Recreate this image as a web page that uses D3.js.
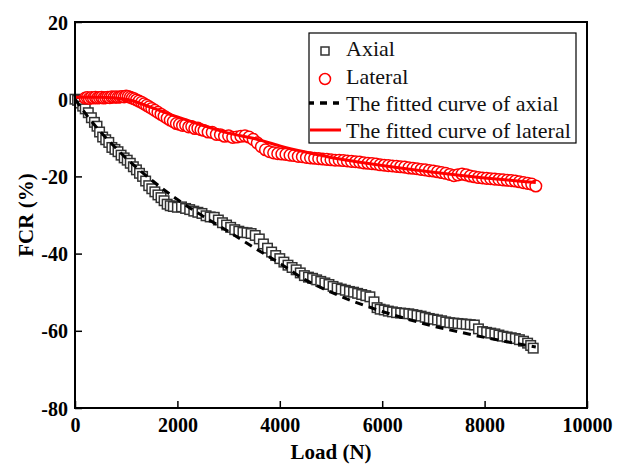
<!DOCTYPE html>
<html>
<head>
<meta charset="utf-8">
<script src="https://cdn.jsdelivr.net/npm/d3@7"></script>
<style>
  body { margin: 0; background: #fff; }
  svg { display: block; }
  text { font-family: "Liberation Serif", "Times New Roman", serif; }
  .axis text { font-size: 20px; font-weight: bold; fill: #000; }
  .axis line { stroke: #000; stroke-width: 1.5px; }
</style>
</head>
<body>
<svg id="chart" width="629" height="464"></svg>
<script>
// axial test points (load in N, FCR in %)
const axialLoad = [0, 50, 100, 150, 200, 260, 320, 380, 430, 480, 540, 600, 660, 720, 780, 840, 900, 960, 1020, 1080,
  1140, 1200, 1260, 1320, 1380, 1440, 1500, 1560, 1620, 1680, 1740, 1800, 1860, 1920, 2000, 2080, 2160, 2240, 2320, 2400,
  2480, 2560, 2640, 2720, 2800, 2880, 2960, 3040, 3120, 3200, 3280, 3360, 3440, 3520, 3600, 3680, 3760, 3840, 3920, 4000,
  4080, 4160, 4240, 4320, 4400, 4480, 4560, 4640, 4720, 4800, 4880, 4960, 5040, 5120, 5200, 5280, 5360, 5440, 5520, 5600,
  5680, 5760, 5840, 5900, 5960, 6040, 6120, 6200, 6280, 6360, 6440, 6520, 6600, 6680, 6760, 6840, 6920, 7000, 7080, 7160,
  7240, 7320, 7400, 7480, 7560, 7640, 7720, 7800, 7880, 7960, 8040, 8120, 8200, 8280, 8360, 8440, 8520, 8600, 8680, 8760,
  8840, 8900, 8950];
const axialFcr = [0, -0.3, -1, -1.8, -2.5, -3.5, -4.8, -6, -7, -8.5, -9.8, -10.5, -11.2, -12.5, -13, -13.6, -14.5, -15.2, -15.8, -16.6,
  -17.5, -18.3, -19.2, -20, -21.2, -22.4, -23.2, -24, -24.8, -25.5, -26.3, -27.2, -27.6, -27.8, -28, -27.9, -28.3, -28.6, -29, -29.3,
  -29.6, -30.2, -30.5, -30.6, -31.3, -32, -32.6, -33.2, -33.8, -34.2, -34.5, -34.6, -34.8, -35.3, -36.2, -37.5, -38.6, -39.6, -40.5, -41.3,
  -42.2, -43, -43.6, -44.2, -45, -45.7, -46.1, -46.4, -46.8, -47.2, -47.6, -48, -48.5, -48.9, -49.2, -49.5, -49.8, -50, -50.3, -50.6,
  -50.9, -51.2, -52.5, -54, -54.4, -54.6, -54.9, -55.1, -55.3, -55.4, -55.5, -55.6, -55.8, -56, -56.2, -56.5, -56.8, -57, -57.2, -57.4,
  -57.7, -57.9, -58, -58.1, -58.2, -58.3, -58.4, -58.5, -59.5, -60.2, -60.4, -60.6, -60.8, -61.1, -61.4, -61.6, -61.8, -62, -62.3, -62.7,
  -63.2, -63.8, -64.5];

// lateral test points
const lateralLoad = [200, 240, 280, 320, 360, 400, 440, 480, 520, 560, 600, 640, 680, 720, 760, 800, 840, 880, 920, 960,
  1000, 1040, 1080, 1120, 1160, 1200, 1250, 1300, 1350, 1400, 1450, 1500, 1560, 1620, 1680, 1740, 1800, 1860, 1920, 1980,
  2040, 2100, 2160, 2220, 2280, 2340, 2400, 2460, 2520, 2600, 2680, 2760, 2840, 2920, 3000, 3080, 3160, 3240, 3320, 3400,
  3480, 3560, 3640, 3720, 3800, 3880, 3960, 4040, 4120, 4200, 4280, 4360, 4440, 4520, 4600, 4680, 4760, 4840, 4920, 5000,
  5080, 5160, 5240, 5320, 5400, 5480, 5560, 5640, 5720, 5800, 5880, 5960, 6040, 6120, 6200, 6280, 6360, 6440, 6520, 6600,
  6680, 6760, 6840, 6920, 7000, 7080, 7160, 7240, 7320, 7400, 7480, 7560, 7640, 7720, 7800, 7880, 7960, 8040, 8120, 8200,
  8280, 8360, 8440, 8520, 8600, 8680, 8760, 8840, 8920, 9000];
const lateralFcr = [0.3, 0.4, 0.2, 0.4, 0.3, 0.5, 0.3, 0.4, 0.5, 0.3, 0.4, 0.5, 0.4, 0.6, 0.5, 0.6, 0.5, 0.6, 0.7, 0.6,
  0.8, 0.7, 0.5, 0.3, 0.1, -0.2, -0.5, -0.8, -1.2, -1.6, -2, -2.4, -2.9, -3.4, -3.9, -4.4, -4.9, -5.4, -5.8, -6.3,
  -6.5, -6.8, -6.7, -7.2, -7.1, -7.6, -7.5, -7.9, -8.1, -8.5, -8.6, -9.1, -9.2, -9.6, -9.5, -9.9, -9.8, -9.6, -9.5, -9.8,
  -10.4, -11.3, -12.3, -13.1, -13.6, -13.9, -14.1, -14.2, -14.3, -14.5, -14.6, -14.8, -14.9, -15.1, -15.2, -15.3, -15.4, -15.5, -15.6, -15.7,
  -15.8, -15.8, -15.9, -16, -16.1, -16.2, -16.3, -16.5, -16.6, -16.7, -16.8, -17, -17.1, -17.2, -17.3, -17.4, -17.5, -17.6, -17.8, -17.9,
  -18, -18.2, -18.3, -18.5, -18.6, -18.8, -19, -19.2, -19.5, -19.8, -19.6, -19.4, -19.6, -19.9, -20.1, -20.3, -20.4, -20.5, -20.6, -20.7,
  -20.8, -20.9, -21, -21.1, -21.2, -21.4, -21.6, -21.8, -22, -22.5];

// fitted curves
const fitAxialLoad = [0, 250, 500, 750, 1000, 1500, 2000, 2500, 3000, 3500, 4000, 4500, 5000, 5500, 6000, 6500, 7000, 7500, 8000, 8500, 9000];
const fitAxialFcr = [0, -4.5, -8.5, -12, -15.3, -21, -26, -30.3, -34.3, -38.5, -42.5, -46.8, -50, -52.7, -55, -57, -58.8, -60.3, -61.7, -63, -64.2];
const fitLateralLoad = [0, 500, 1000, 1500, 2000, 2500, 3000, 3500, 4000, 4500, 5000, 5500, 6000, 6500, 7000, 7500, 8000, 8500, 9000];
const fitLateralFcr = [0.5, 0.5, 0, -2.2, -4.6, -6.8, -8.8, -10.2, -12.1, -13.7, -15.1, -16.2, -17.2, -18.1, -18.9, -19.7, -20.4, -21, -21.6];

const xTicks = [0, 2000, 4000, 6000, 8000, 10000];
const yTicks = [20, 0, -20, -40, -60, -80];
const legendLabels = ["Axial", "Lateral", "The fitted curve of axial", "The fitted curve of lateral"];

const serif = "'Liberation Serif', 'Times New Roman', serif";
const svg = d3.select("#chart");
const margin = { top: 22, right: 42, bottom: 56, left: 75 };
const width = 629, height = 464;

const x = d3.scaleLinear().domain([0, 10000]).range([margin.left, width - margin.right]);
const y = d3.scaleLinear().domain([-80, 20]).range([height - margin.bottom, margin.top]);

// axes with inward ticks, plain hyphen for negatives
const xAxis = d3.axisBottom(x).tickValues(xTicks).tickFormat(d => String(d)).tickSizeInner(-7).tickSizeOuter(0).tickPadding(10);
const yAxis = d3.axisLeft(y).tickValues(yTicks).tickFormat(d => String(d)).tickSizeInner(-7).tickSizeOuter(0).tickPadding(7);

const gx = svg.append("g").attr("class", "axis").attr("transform", `translate(0,${y(-80)})`).call(xAxis);
const gy = svg.append("g").attr("class", "axis").attr("transform", `translate(${x(0)},0)`).call(yAxis);
gx.select(".domain").remove();
gy.select(".domain").remove();
gx.attr("font-family", serif).attr("font-size", 20);
gy.attr("font-family", serif).attr("font-size", 20);
gy.selectAll("text").attr("dy", "0.35em");

const axial = axialLoad.map((d, i) => ({ load: d, fcr: axialFcr[i] }));
const lateral = lateralLoad.map((d, i) => ({ load: d, fcr: lateralFcr[i] }));
const fitAxial = fitAxialLoad.map((d, i) => ({ load: d, fcr: fitAxialFcr[i] }));
const fitLateral = fitLateralLoad.map((d, i) => ({ load: d, fcr: fitLateralFcr[i] }));

const sq = 9.5;
svg.append("g").selectAll("rect")
  .data(axial)
  .join("rect")
  .attr("x", d => x(d.load) - sq / 2)
  .attr("y", d => y(d.fcr) - sq / 2)
  .attr("width", sq)
  .attr("height", sq)
  .attr("fill", "#fff")
  .attr("stroke", "#333")
  .attr("stroke-width", 1.5);

svg.append("g").selectAll("circle")
  .data(lateral)
  .join("circle")
  .attr("cx", d => x(d.load))
  .attr("cy", d => y(d.fcr))
  .attr("r", 5.8)
  .attr("fill", "#fff")
  .attr("stroke", "#ff0000")
  .attr("stroke-width", 1.5);

const line = d3.line()
  .x(d => x(d.load))
  .y(d => y(d.fcr))
  .curve(d3.curveMonotoneX);

svg.append("path")
  .datum(fitAxial)
  .attr("fill", "none")
  .attr("stroke", "#000")
  .attr("stroke-width", 3)
  .attr("stroke-dasharray", "8,6")
  .attr("d", line);

svg.append("path")
  .datum(fitLateral)
  .attr("fill", "none")
  .attr("stroke", "#ff0000")
  .attr("stroke-width", 3)
  .attr("d", line);

// frame
svg.append("rect")
  .attr("x", x(0))
  .attr("y", y(20))
  .attr("width", x(10000) - x(0))
  .attr("height", y(-80) - y(20))
  .attr("fill", "none")
  .attr("stroke", "#000")
  .attr("stroke-width", 2);

// axis titles
svg.append("text")
  .attr("x", (x(0) + x(10000)) / 2)
  .attr("y", 459)
  .attr("text-anchor", "middle")
  .attr("font-family", serif)
  .attr("font-size", 21)
  .attr("font-weight", "bold")
  .text("Load (N)");

svg.append("text")
  .attr("transform", `translate(33,${(y(20) + y(-80)) / 2}) rotate(-90)`)
  .attr("text-anchor", "middle")
  .attr("font-family", serif)
  .attr("font-size", 21)
  .attr("font-weight", "bold")
  .text("FCR (%)");

// legend
const legend = svg.append("g");
legend.append("rect")
  .attr("x", 309).attr("y", 33)
  .attr("width", 267).attr("height", 110)
  .attr("fill", "#fff")
  .attr("stroke", "#000")
  .attr("stroke-width", 1.2);

const rowY = [48, 76, 103, 130];
legend.selectAll("text")
  .data(legendLabels)
  .join("text")
  .attr("x", 346)
  .attr("y", (d, i) => rowY[i])
  .attr("dy", "0.35em")
  .attr("font-family", serif)
  .attr("font-size", 22)
  .attr("fill", "#111")
  .text(d => d);

legend.append("rect")
  .attr("x", 321).attr("y", rowY[0] - 1)
  .attr("width", 8).attr("height", 8)
  .attr("fill", "#fff").attr("stroke", "#333").attr("stroke-width", 1.5);
legend.append("circle")
  .attr("cx", 325).attr("cy", rowY[1] + 3).attr("r", 5.5)
  .attr("fill", "#fff").attr("stroke", "#ff0000").attr("stroke-width", 1.5);
legend.append("line")
  .attr("x1", 309).attr("x2", 339).attr("y1", rowY[2]).attr("y2", rowY[2])
  .attr("stroke", "#000").attr("stroke-width", 3.5).attr("stroke-dasharray", "7,6")
  .attr("stroke-dashoffset", 2);
legend.append("line")
  .attr("x1", 310).attr("x2", 341).attr("y1", rowY[3]).attr("y2", rowY[3])
  .attr("stroke", "#ff0000").attr("stroke-width", 3);
</script>
</body>
</html>
